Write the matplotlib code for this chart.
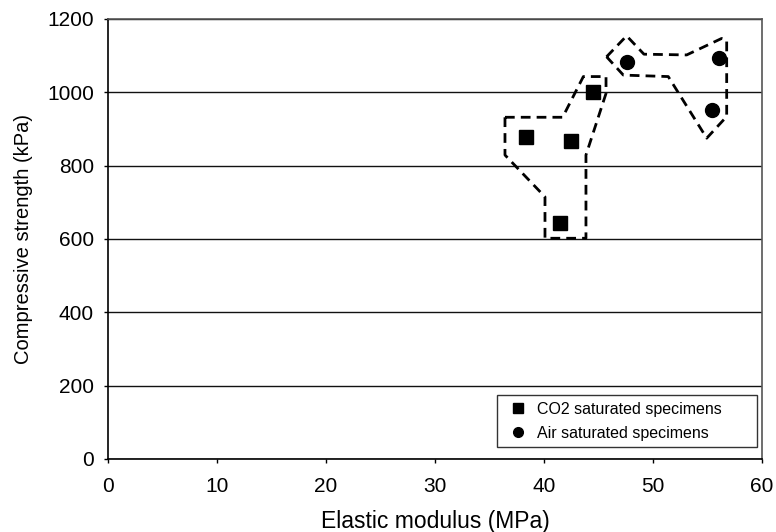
import matplotlib
matplotlib.use("Agg")
import matplotlib.pyplot as plt

# =========================
# Data
# =========================
co2_modulus = [38.35, 42.45, 44.46, 41.47]
co2_strength = [879, 868, 1002, 643]

air_modulus = [47.6, 56.03, 55.44]
air_strength = [1082, 1093, 952]

# dashed outlines around each group
co2_outline_x = [36.42, 41.71, 43.61, 45.69, 45.69, 43.85, 43.85, 40.09, 40.09, 36.42, 36.42]
co2_outline_y = [932, 932, 1043, 1043, 997, 829, 602, 602, 715, 829, 932]

air_outline_x = [45.74, 47.58, 49.17, 53.09, 56.3, 56.76, 56.76, 54.93, 51.4, 47.28, 45.74]
air_outline_y = [1097, 1154, 1104, 1102, 1147, 1143, 934, 875, 1043, 1047, 1097]

x_ticks = [0, 10, 20, 30, 40, 50, 60]
y_ticks = [0, 200, 400, 600, 800, 1000, 1200]

# =========================
# Plot
# =========================
plt.rcParams["font.family"] = ["Liberation Sans", "DejaVu Sans"]

fig = plt.figure(figsize=(7.76, 5.32), dpi=100)
ax = fig.add_axes([108 / 776, 1 - 459 / 532, 654 / 776, 440 / 532])

ax.plot(co2_outline_x, co2_outline_y, color="black", linestyle=(0, (3.5, 2.2)), linewidth=2)
ax.plot(air_outline_x, air_outline_y, color="black", linestyle=(0, (3.5, 2.2)), linewidth=2)

ax.plot(co2_modulus, co2_strength, linestyle="none", marker="s", markersize=10,
        color="black", label="CO2 saturated specimens")
ax.plot(air_modulus, air_strength, linestyle="none", marker="o", markersize=10,
        color="black", label="Air saturated specimens")

ax.set_xlim(0, 60)
ax.set_ylim(0, 1200)
ax.set_xticks(x_ticks)
ax.set_yticks(y_ticks)
ax.yaxis.grid(True, color="#111111", linewidth=1)
ax.set_axisbelow(True)

for s in ax.spines.values():
    s.set_linewidth(1.2)
ax.spines["top"].set_color("#555555")
ax.spines["right"].set_color("#555555")

ax.tick_params(axis="both", labelsize=15, direction="out", length=3, width=1)
ax.tick_params(axis="x", pad=10)
ax.tick_params(axis="y", pad=7)

ax.set_xlabel("Elastic modulus (MPa)", fontsize=16.5, labelpad=10)
ax.set_ylabel("Compressive strength (kPa)", fontsize=14.5, labelpad=10)

leg = ax.legend(loc="lower left", bbox_to_anchor=(0.5948, 0.0273, 0.3976, 0.127),
                mode="expand", borderaxespad=0, fontsize=11.5, frameon=True,
                fancybox=False, edgecolor="black", markerscale=0.7,
                handlelength=1.8, handletextpad=0.3, borderpad=0.4,
                labelspacing=0.55)
leg.get_frame().set_linewidth(1)

fig.savefig("out.png", dpi=100)
